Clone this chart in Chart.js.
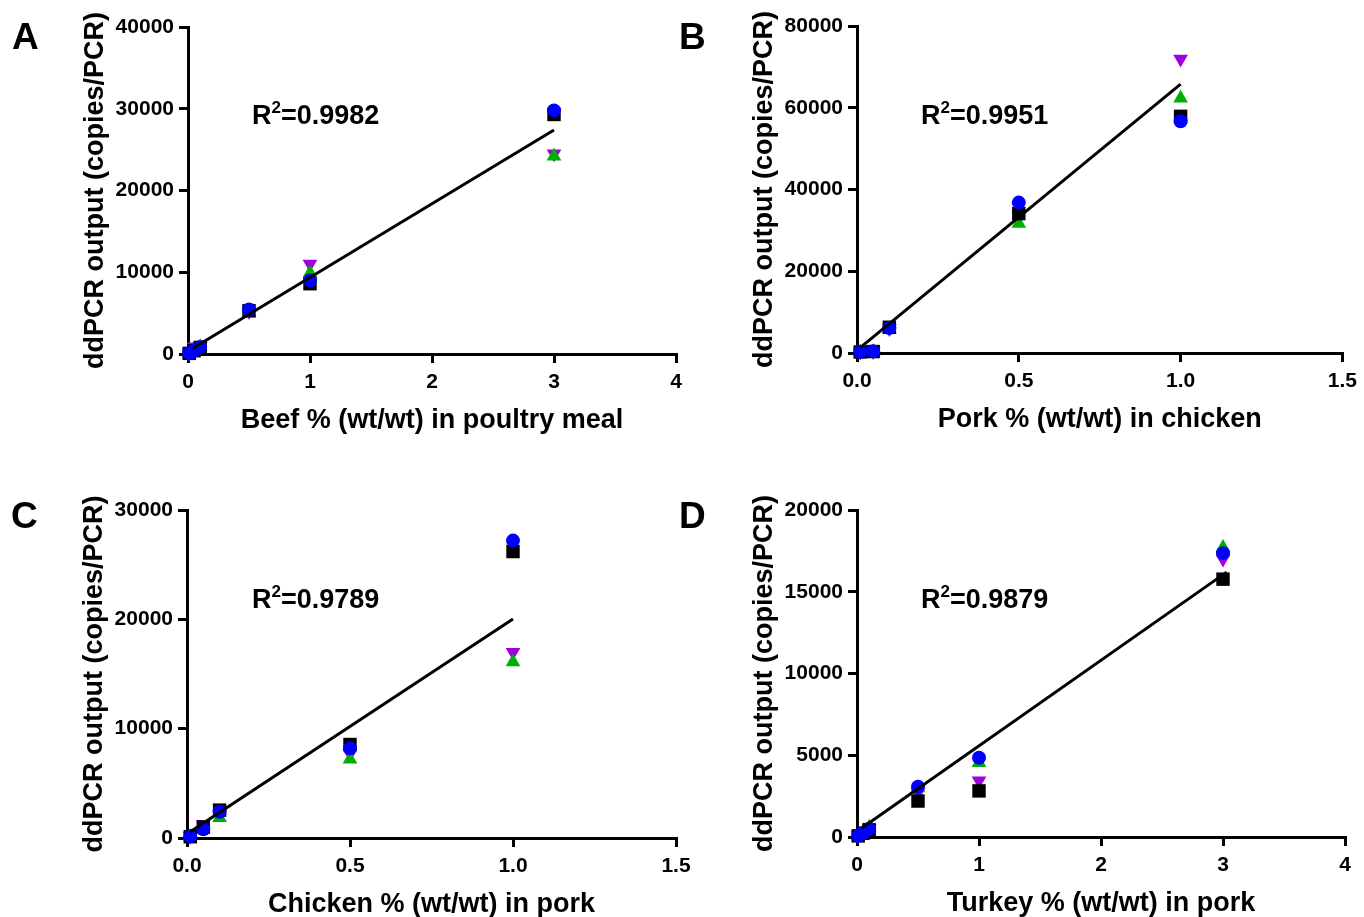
<!DOCTYPE html>
<html>
<head>
<meta charset="utf-8">
<script src="https://cdn.jsdelivr.net/npm/chart.js@4.4.1/dist/chart.umd.min.js"></script>
<style>
  body { margin: 0; background: #fff; }
  #wrap { position: relative; width: 1364px; height: 917px; overflow: hidden; background: #fff; }
  canvas { position: absolute; left: 0; top: 0; }
  .txt { position: absolute; font-family: "Liberation Sans", Arial, sans-serif; font-weight: bold; color: #000; white-space: nowrap; z-index: 5; }
  .letter { font-size: 37px; line-height: 37px; }
  .r2 { font-size: 27px; line-height: 27px; }
  .r2 sup { font-size: 17px; line-height: 0; vertical-align: 11px; }
</style>
</head>
<body>
<div id="wrap">
  <canvas id="chartA" width="1364" height="917"></canvas>
  <canvas id="chartB" width="1364" height="917"></canvas>
  <canvas id="chartC" width="1364" height="917"></canvas>
  <canvas id="chartD" width="1364" height="917"></canvas>

  <div class="txt letter" style="left:12px;top:18px">A</div>
  <div class="txt letter" style="left:679px;top:18px">B</div>
  <div class="txt letter" style="left:11px;top:497px">C</div>
  <div class="txt letter" style="left:679px;top:497px">D</div>

  <div class="txt r2" style="left:252px;top:102px">R<sup>2</sup>=0.9982</div>
  <div class="txt r2" style="left:921px;top:102px">R<sup>2</sup>=0.9951</div>
  <div class="txt r2" style="left:252px;top:586px">R<sup>2</sup>=0.9789</div>
  <div class="txt r2" style="left:921px;top:586px">R<sup>2</sup>=0.9879</div>
</div>
<script>
// Panel A - beef in poultry meal
const aPct = [0.01, 0.05, 0.1, 0.5, 1, 3];
const aCircle = [90, 420, 850, 5450, 9000, 29800];
const aSquare = [80, 400, 800, 5300, 8600, 29300];
const aUp = [100, 450, 900, 5000, 9900, 24200];
const aDown = [110, 900, 950, 5200, 11000, 24500];
const aFitX = [0.04, 3];
const aFitY = [700, 27400];
const aXTicks = ['0', '1', '2', '3', '4'];
const aYTicks = ['0', '10000', '20000', '30000', '40000'];

// Panel B - pork in chicken
const bPct = [0.01, 0.05, 0.1, 0.5, 1];
const bCircle = [300, 400, 6100, 36800, 56700];
const bSquare = [250, 350, 6300, 34100, 57900];
const bUp = [200, 300, 5800, 31700, 62300];
const bDown = [250, 350, 6000, 33500, 71900];
const bFitX = [0.01, 1];
const bFitY = [1300, 65800];
const bXTicks = ['0.0', '0.5', '1.0', '1.5'];
const bYTicks = ['0', '20000', '40000', '60000', '80000'];

// Panel C - chicken in pork
const cPct = [0.01, 0.05, 0.1, 0.5, 1];
const cCircle = [150, 800, 2400, 8200, 27200];
const cSquare = [120, 1000, 2550, 8550, 26200];
const cUp = [130, 900, 1850, 7200, 16100];
const cDown = [160, 1250, 2200, 7700, 17000];
const cFitX = [0.01, 1];
const cFitY = [580, 20040];
const cXTicks = ['0.0', '0.5', '1.0', '1.5'];
const cYTicks = ['0', '10000', '20000', '30000'];

// Panel D - turkey in pork
const dPct = [0.01, 0.05, 0.1, 0.5, 1, 3];
const dCircle = [80, 250, 500, 3070, 4850, 17360];
const dSquare = [70, 230, 450, 2200, 2820, 15770];
const dUp = [90, 280, 600, 3000, 4540, 17700];
const dDown = [85, 260, 520, 2700, 3440, 17000];
const dFitX = [0.04, 3.03];
const dFitY = [550, 16200];
const dXTicks = ['0', '1', '2', '3', '4'];
const dYTicks = ['0', '5000', '10000', '15000', '20000'];

const BLUE = '#0000ff';
const GREEN = '#00b000';
const PURPLE = '#a000e0';
const FONT = '"Liberation Sans", Arial, sans-serif';
const yTitle = 'ddPCR output (copies/PCR)';
const X_AXIS_H = 88;   // height of the x scale box (ticks + title)
const Y_AXIS_W = 120;  // width of the y scale box

function pts(xs, ys) {
    return xs.map((x, i) => ({ x: x, y: ys[i] }));
}

function markers(xs, ys, style, radius, rotation, color) {
    return {
        data: pts(xs, ys),
        pointStyle: style,
        pointRadius: radius,
        pointRotation: rotation,
        pointBackgroundColor: color,
        pointBorderColor: color,
        pointBorderWidth: 0,
        showLine: false,
        clip: false
    };
}

function axisGrid() {
    return {
        display: true,
        drawOnChartArea: false,
        drawTicks: true,
        tickLength: 9,
        lineWidth: 3,
        color: '#000'
    };
}

// box = chart area position on the page
function makePanel(id, box, xs, series, fitX, fitY, xMax, xStep, xLabels, yMax, yStep, yLabels, xTitle) {
    const ctx = document.getElementById(id).getContext('2d');
    new Chart(ctx, {
        type: 'scatter',
        data: {
            datasets: [
                { data: pts(fitX, fitY), showLine: true, borderColor: '#000', borderWidth: 3, pointRadius: 0, clip: false },
                markers(xs, series.circle, 'circle', 7, 0, BLUE),
                markers(xs, series.square, 'rect', 9.5, 0, '#000'),
                markers(xs, series.up, 'triangle', 8.5, 0, GREEN),
                markers(xs, series.down, 'triangle', 8.5, 180, PURPLE)
            ]
        },
        options: {
            responsive: false,
            animation: false,
            events: [],
            layout: {
                padding: {
                    left: box.left - Y_AXIS_W,
                    top: box.top,
                    right: 1364 - box.right,
                    bottom: 917 - box.bottom - X_AXIS_H
                }
            },
            plugins: { legend: { display: false }, tooltip: { enabled: false } },
            scales: {
                x: {
                    type: 'linear',
                    min: 0, max: xMax,
                    ticks: {
                        stepSize: xStep,
                        padding: 7,
                        color: '#000',
                        font: { family: FONT, size: 21, weight: 'bold' },
                        callback: (v, i) => xLabels[i]
                    },
                    grid: axisGrid(),
                    border: { display: true, width: 3, color: '#000' },
                    title: {
                        display: true, text: xTitle, color: '#000',
                        font: { family: FONT, size: 27, weight: 'bold' },
                        padding: { top: 0, bottom: 5 }
                    },
                    afterFit: s => { s.height = X_AXIS_H; }
                },
                y: {
                    type: 'linear',
                    min: 0, max: yMax,
                    ticks: {
                        stepSize: yStep,
                        padding: 5,
                        color: '#000',
                        font: { family: FONT, size: 21, weight: 'bold' },
                        callback: (v, i) => yLabels[i]
                    },
                    grid: axisGrid(),
                    border: { display: true, width: 3, color: '#000' },
                    title: {
                        display: true, text: yTitle, color: '#000',
                        font: { family: FONT, size: 27, weight: 'bold' },
                        padding: { top: 11, bottom: 0 }
                    },
                    afterFit: s => { s.width = Y_AXIS_W; }
                }
            }
        }
    });
}

makePanel('chartA', { left: 188, top: 27, right: 676, bottom: 354 }, aPct,
    { circle: aCircle, square: aSquare, up: aUp, down: aDown }, aFitX, aFitY,
    4, 1, aXTicks, 40000, 10000, aYTicks, 'Beef % (wt/wt) in poultry meal');

makePanel('chartB', { left: 857, top: 26, right: 1345, bottom: 353 }, bPct,
    { circle: bCircle, square: bSquare, up: bUp, down: bDown }, bFitX, bFitY,
    1.5, 0.5, bXTicks, 80000, 20000, bYTicks, 'Pork % (wt/wt) in chicken');

makePanel('chartC', { left: 187, top: 510, right: 676, bottom: 838 }, cPct,
    { circle: cCircle, square: cSquare, up: cUp, down: cDown }, cFitX, cFitY,
    1.5, 0.5, cXTicks, 30000, 10000, cYTicks, 'Chicken % (wt/wt) in pork');

makePanel('chartD', { left: 857, top: 510, right: 1345, bottom: 837 }, dPct,
    { circle: dCircle, square: dSquare, up: dUp, down: dDown }, dFitX, dFitY,
    4, 1, dXTicks, 20000, 5000, dYTicks, 'Turkey % (wt/wt) in pork');
</script>
</body>
</html>
